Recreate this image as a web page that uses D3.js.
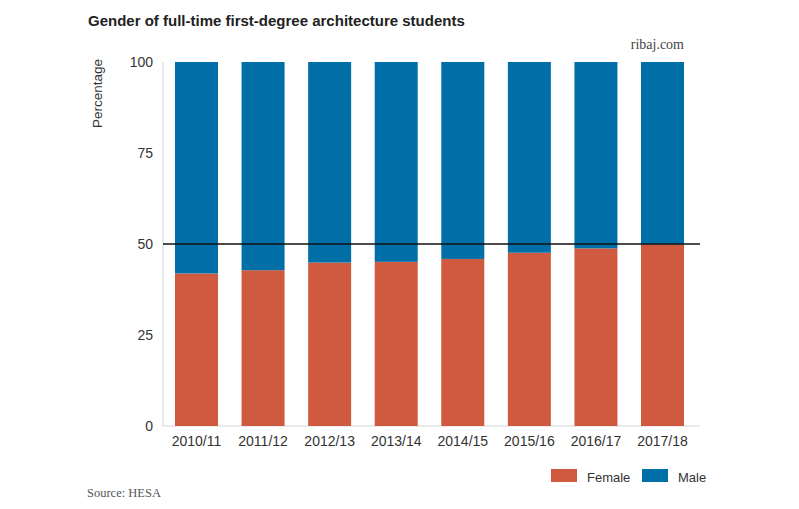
<!DOCTYPE html>
<html><head><meta charset="utf-8">
<script src="https://cdn.jsdelivr.net/npm/d3@7/dist/d3.min.js"></script>
<style>body{margin:0;background:#fff;} svg{display:block;}</style>
</head><body>
<svg id="c" width="799" height="509"></svg>
<script>
const years = ["2010/11","2011/12","2012/13","2013/14","2014/15","2015/16","2016/17","2017/18"];
const female = [41.9, 42.8, 44.9, 45.1, 45.9, 47.6, 48.8, 49.9];
const male = female.map(f => 100 - f);
const yTicks = [0, 25, 50, 75, 100];
const seriesNames = ["Female", "Male"];
const colors = {Female: "#d05a3f", Male: "#006fa8"};

const svg = d3.select("#c");
const sans = "Liberation Sans, Arial, sans-serif";
const serif = "Liberation Serif, Times New Roman, serif";

const x = d3.scaleBand().domain(years).range([163, 696]).paddingInner(0.354).paddingOuter(0.18);
const y = d3.scaleLinear().domain([0, 100]).range([426, 62]);

// axis lines
svg.append("line").attr("x1", 163).attr("x2", 163).attr("y1", y(100)).attr("y2", y(0))
  .attr("stroke", "#e3e3e3").attr("stroke-width", 1.5);
svg.append("line").attr("x1", 163).attr("x2", 700).attr("y1", y(0)).attr("y2", y(0))
  .attr("stroke", "#e3e3e3").attr("stroke-width", 1.5);

const data = years.map((yr, i) => ({yr, f: female[i], m: male[i]}));
svg.selectAll("rect.f").data(data).enter().append("rect").attr("class", "f")
  .attr("x", d => x(d.yr)).attr("width", x.bandwidth())
  .attr("y", d => y(d.f)).attr("height", d => y(0) - y(d.f)).attr("fill", colors.Female);
svg.selectAll("rect.m").data(data).enter().append("rect").attr("class", "m")
  .attr("x", d => x(d.yr)).attr("width", x.bandwidth())
  .attr("y", d => y(100)).attr("height", d => y(d.f) - y(100)).attr("fill", colors.Male);

// 50% reference line
svg.append("line").attr("x1", 163).attr("x2", 700).attr("y1", y(50)).attr("y2", y(50))
  .attr("stroke", "#111").attr("stroke-width", 1.3);

// y axis
const yAxis = d3.axisLeft(y).tickValues(yTicks).tickSize(0).tickPadding(10);
const gy = svg.append("g").attr("transform", "translate(163,0)").call(yAxis);
gy.select(".domain").remove();
gy.selectAll("text").attr("font-family", sans).attr("font-size", 14).attr("fill", "#333");

// x axis
const xAxis = d3.axisBottom(x).tickSize(0).tickPadding(10);
const gx = svg.append("g").attr("transform", `translate(0,${y(0)})`).call(xAxis);
gx.select(".domain").remove();
gx.selectAll("text").attr("font-family", sans).attr("font-size", 14).attr("fill", "#333");

// y label
svg.append("text").attr("transform", "translate(102,59) rotate(-90)")
  .attr("text-anchor", "end").attr("font-family", sans).attr("font-size", 13.5).attr("fill", "#333")
  .text("Percentage");

// title
svg.append("text").attr("x", 88).attr("y", 26).attr("font-family", sans).attr("font-weight", "bold")
  .attr("font-size", 15).attr("fill", "#222").text("Gender of full-time first-degree architecture students");

svg.append("text").attr("x", 684).attr("y", 49).attr("text-anchor", "end").attr("font-family", serif)
  .attr("font-size", 14).attr("fill", "#444").text("ribaj.com");

svg.append("text").attr("x", 87).attr("y", 497).attr("font-family", serif)
  .attr("font-size", 12.5).attr("fill", "#555").text("Source: HESA");

// legend
const legendX = [551, 642];
const lg = svg.selectAll("g.lg").data(seriesNames).enter().append("g").attr("class", "lg")
  .attr("transform", (d, i) => `translate(${legendX[i]},469)`);
lg.append("rect").attr("width", 26).attr("height", 13).attr("fill", d => colors[d]);
lg.append("text").attr("x", 36).attr("y", 13).attr("font-family", sans).attr("font-size", 13)
  .attr("fill", "#333").text(d => d);
</script>
</body></html>
